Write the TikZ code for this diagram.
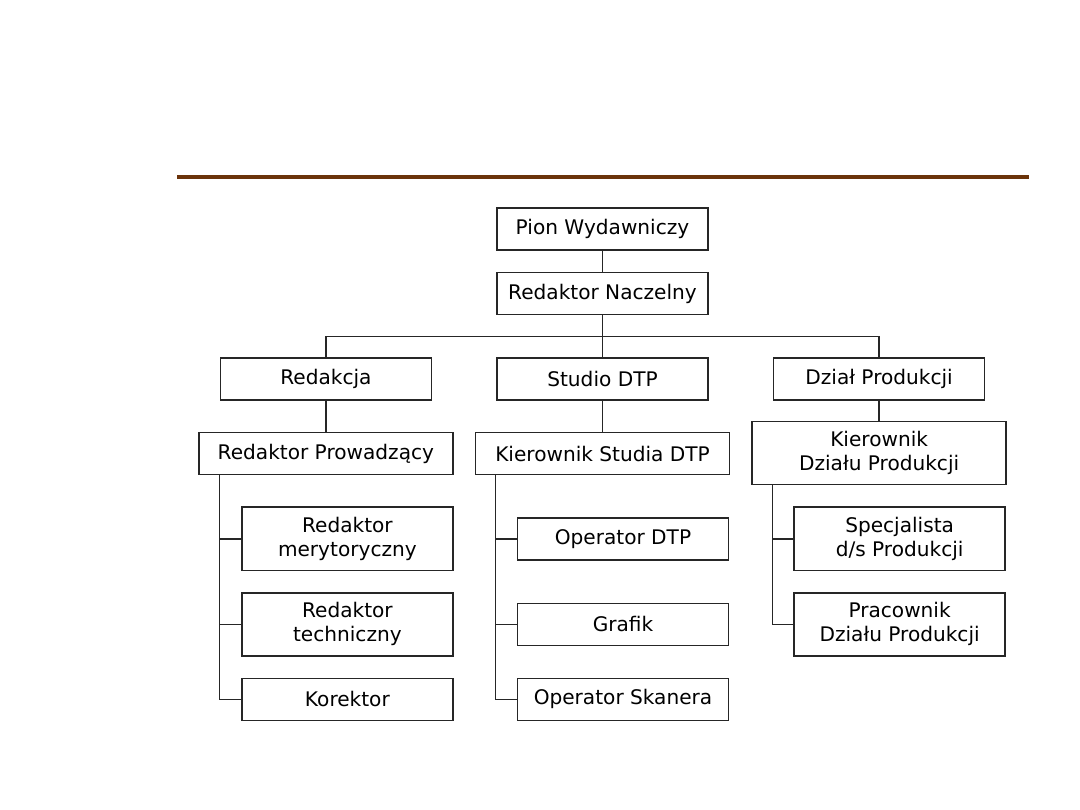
\documentclass[tikz,border=0pt]{standalone}
\usepackage{fontspec}
\setmainfont{DejaVu Sans}
\usepackage{xcolor}
\usetikzlibrary{positioning, calc}
\definecolor{rulebrown}{RGB}{107,51,10}
\tikzstyle{box} = [rectangle, draw=black!85, line width=1.1pt,
    minimum width=5.275cm, minimum height=1.05cm, inner sep=0pt,
    align=center, font=\fontsize{14.3}{17}\selectfont]
\tikzstyle{wide} = [box, minimum width=6.35cm]
\tikzstyle{tall} = [minimum height=1.575cm]
\tikzstyle{link} = [line width=1.1pt, draw=black!85]

\begin{document}
\begin{tikzpicture}[x=0.025cm, y=-0.025cm]
  \useasboundingbox (0,0) rectangle (1080,810);
  \draw[rulebrown, line width=2.8pt] (177,177) -- (1029,177);

  \node (pion)   [box] at (602.5,229)            {Pion Wydawniczy};
  \node (nacz)   [box, below=0.525cm of pion]     {Redaktor Naczelny};
  \node (studio) [box, below=1.05cm of nacz]      {Studio DTP};
  \node (redak)  [box, left=1.6cm of studio]      {Redakcja};
  \node (dzial)  [box, right=1.6cm of studio]     {Dział Produkcji};
  \node (prow)   [wide, below=0.775cm of redak]   {Redaktor Prowadzący};
  \node (kdtp)   [wide, below=0.775cm of studio]  {Kierownik Studia DTP};
  \node (kdp)    [wide, tall, below=0.5cm of dzial] {Kierownik\\Działu Produkcji};
  \node (meryt)  [box, tall, below=0.775cm of prow.south east, anchor=north east] {Redaktor\\merytoryczny};
  \node (tech)   [box, tall, below=0.525cm of meryt] {Redaktor\\techniczny};
  \node (kor)    [box, below=0.525cm of tech]     {Korektor};
  \node (opdtp)  [box, right=1.575cm of meryt]    {Operator DTP};
  \node (grafik) [box, right=1.575cm of tech]     {Grafik};
  \node (skan)   [box, right=1.575cm of kor]      {Operator Skanera};
  \node (spec)   [box, tall, right=1.6cm of opdtp]  {Specjalista\\d/s Produkcji};
  \node (prac)   [box, tall, right=1.6cm of grafik] {Pracownik\\Działu Produkcji};

  % top of the tree
  \coordinate (bus) at ($(nacz.south)!0.5!(studio.north)$);
  \draw[link] (pion) -- (nacz);
  \draw[link] (nacz) -- (studio);
  \draw[link] (redak.north) |- (bus) -| (dzial.north);
  \draw[link] (redak) -- (prow);
  \draw[link] (studio) -- (kdtp);
  \draw[link] (dzial) -- (kdp);

  % spines
  \coordinate (sp1) at ($(prow.south west)!0.5!(meryt.south west)$);
  \coordinate (sp2) at ($(kdtp.south west)!0.5!(opdtp.south west)$);
  \coordinate (sp3) at ($(kdp.south west)!0.5!(spec.south west)$);
  \draw[link] (sp1 |- prow.south) |- (kor.west);
  \draw[link] (sp2 |- kdtp.south) |- (skan.west);
  \draw[link] (sp3 |- kdp.south) |- (prac.west);
  \foreach \n in {meryt, tech} \draw[link] (sp1 |- \n.west) -- (\n.west);
  \foreach \n in {opdtp, grafik} \draw[link] (sp2 |- \n.west) -- (\n.west);
  \draw[link] (sp3 |- spec.west) -- (spec.west);
\end{tikzpicture}
\end{document}
